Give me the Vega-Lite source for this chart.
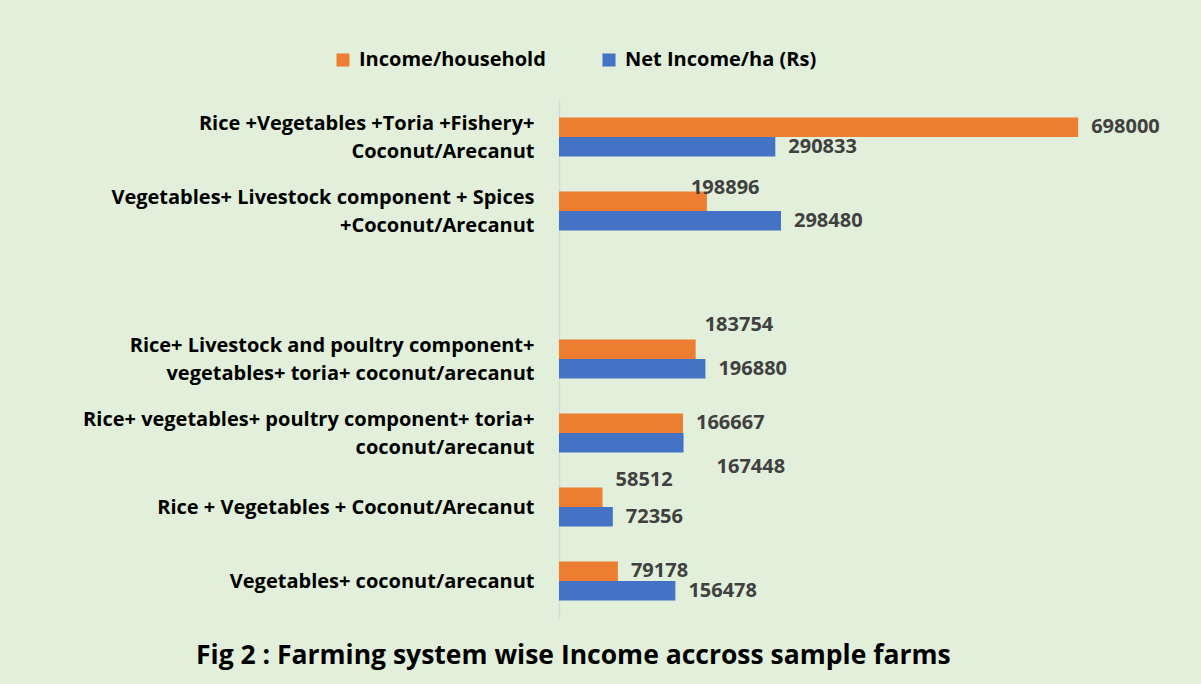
{
  "$schema": "https://vega.github.io/schema/vega-lite/v6.json",
  "width": 595,
  "height": 518,
  "autosize": {"type": "none"},
  "padding": {"left": 559, "top": 100, "right": 47, "bottom": 66},
  "background": "#E2EFDA",
  "title": {
    "text": "Fig 2 : Farming system wise Income accross sample farms",
    "orient": "bottom",
    "anchor": "start",
    "frame": "group",
    "dx": -363,
    "offset": 25,
    "font": "Open Sans",
    "fontSize": 26.5,
    "fontWeight": "bold",
    "color": "#000000"
  },
  "data": {
    "values": [
      {"system": "Rice +Vegetables +Toria +Fishery+|Coconut/Arecanut", "series": "Income/household", "value": 698000},
      {"system": "Rice +Vegetables +Toria +Fishery+|Coconut/Arecanut", "series": "Net Income/ha (Rs)", "value": 290833},
      {"system": "Vegetables+ Livestock component + Spices|+Coconut/Arecanut", "series": "Income/household", "value": 198896},
      {"system": "Vegetables+ Livestock component + Spices|+Coconut/Arecanut", "series": "Net Income/ha (Rs)", "value": 298480},
      {"system": "Rice+ Livestock and poultry component+|vegetables+ toria+ coconut/arecanut", "series": "Income/household", "value": 183754},
      {"system": "Rice+ Livestock and poultry component+|vegetables+ toria+ coconut/arecanut", "series": "Net Income/ha (Rs)", "value": 196880},
      {"system": "Rice+ vegetables+ poultry component+ toria+|coconut/arecanut", "series": "Income/household", "value": 166667},
      {"system": "Rice+ vegetables+ poultry component+ toria+|coconut/arecanut", "series": "Net Income/ha (Rs)", "value": 167448},
      {"system": "Rice + Vegetables + Coconut/Arecanut", "series": "Income/household", "value": 58512},
      {"system": "Rice + Vegetables + Coconut/Arecanut", "series": "Net Income/ha (Rs)", "value": 72356},
      {"system": "Vegetables+ coconut/arecanut", "series": "Income/household", "value": 79178},
      {"system": "Vegetables+ coconut/arecanut", "series": "Net Income/ha (Rs)", "value": 156478}
    ]
  },
  "encoding": {
    "y": {
      "field": "system",
      "type": "nominal",
      "title": null,
      "scale": {
        "domain": [
          "Rice +Vegetables +Toria +Fishery+|Coconut/Arecanut",
          "Vegetables+ Livestock component + Spices|+Coconut/Arecanut",
          "(gap)",
          "Rice+ Livestock and poultry component+|vegetables+ toria+ coconut/arecanut",
          "Rice+ vegetables+ poultry component+ toria+|coconut/arecanut",
          "Rice + Vegetables + Coconut/Arecanut",
          "Vegetables+ coconut/arecanut"
        ],
        "paddingInner": 0.473,
        "paddingOuter": 0.2365
      },
      "axis": {
        "labelExpr": "datum.value == '(gap)' ? '' : split(datum.value, '|')",
        "labelFont": "Open Sans",
        "labelFontSize": 20,
        "labelFontWeight": "bold",
        "labelColor": "#000000",
        "labelLimit": 600,
        "labelPadding": 25,
        "labelLineHeight": 28,
        "labelOffset": {"condition": {"test": "indexof(datum.value, '|') >= 0", "value": -13}, "value": 1},
        "ticks": false,
        "domainColor": "#D9D9D9",
        "domainWidth": 1.5,
        "grid": false
      }
    },
    "yOffset": {
      "field": "series",
      "type": "nominal",
      "scale": {"domain": ["Income/household", "Net Income/ha (Rs)"]}
    },
    "x": {
      "field": "value",
      "type": "quantitative",
      "scale": {"domain": [0, 800000]},
      "axis": null
    }
  },
  "layer": [
    {
      "mark": {"type": "bar"},
      "encoding": {
        "color": {
          "field": "series",
          "type": "nominal",
          "scale": {"domain": ["Income/household", "Net Income/ha (Rs)"], "range": ["#ED7D31", "#4472C4"]},
          "legend": {
            "title": null,
            "orient": "none",
            "direction": "horizontal",
            "legendX": -226,
            "legendY": -50,
            "symbolType": "square",
            "symbolSize": 169,
            "symbolStrokeWidth": 0,
            "labelFont": "Open Sans",
            "labelFontSize": 20,
            "labelFontWeight": "bold",
            "labelColor": "#000000",
            "labelOffset": 6,
            "columnPadding": 53,
            "labelLimit": 300
          }
        }
      }
    },
    {
      "mark": {
        "type": "text",
        "align": "left",
        "baseline": "middle",
        "font": "Open Sans",
        "fontSize": 20,
        "fontWeight": "bold",
        "color": "#404040",
        "dx": {"expr": "datum.value == 198896 ? -16 : datum.value == 183754 ? 9 : datum.value == 167448 ? 33 : 13"},
        "dy": {"expr": "datum.value == 198896 ? -13 : datum.value == 183754 ? -24 : datum.value == 167448 ? 24 : datum.value == 58512 ? -17 : 0"}
      },
      "encoding": {
        "text": {"field": "value", "type": "quantitative", "format": "d"}
      }
    }
  ],
  "config": {"view": {"stroke": null}}
}
